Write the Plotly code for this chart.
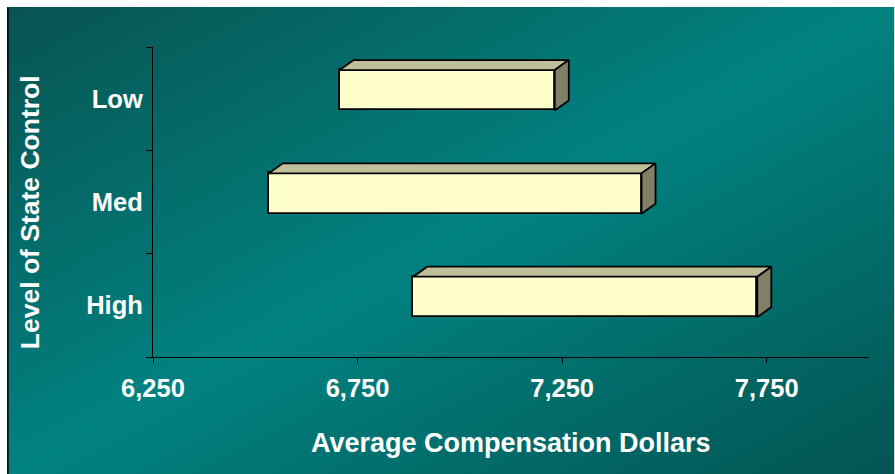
import base64
import plotly.graph_objects as go

# Range of average compensation by level of state control
categories = ["High", "Med", "Low"]
range_low = [6886, 6533, 6706]
range_high = [7727, 7444, 7232]
x_ticks = [6250, 6750, 7250, 7750]

W, H = 895, 474
M_L, M_R, M_T, M_B = 153, 25.5, 47, 117.3
PW, PH = W - M_L - M_R, H - M_T - M_B

X_MIN, X_MAX = 6250, 8000
Y_MIN, Y_MAX = -0.5, 2.5

# bar geometry in axis units
BAR_OFFSET, BAR_WIDTH = -0.114, 0.391
DEPTH_X = 14 * (X_MAX - X_MIN) / PW
DEPTH_Y = 10 * (Y_MAX - Y_MIN) / PH

FRONT = "#FFFFCC"
TOP = "#BFBF99"
SIDE = "#808066"
EDGE = "#000000"

fig = go.Figure()

ypos = list(range(len(categories)))
for i, (lo, hi) in enumerate(zip(range_low, range_high)):
    y0 = i + BAR_OFFSET
    y1 = y0 + BAR_WIDTH
    # top face
    fig.add_trace(go.Scatter(
        x=[lo, lo + DEPTH_X, hi + DEPTH_X, hi, lo],
        y=[y1, y1 + DEPTH_Y, y1 + DEPTH_Y, y1, y1],
        fill="toself", fillcolor=TOP, mode="lines",
        line=dict(color=EDGE, width=1.8), hoverinfo="skip", showlegend=False))
    # right side face
    fig.add_trace(go.Scatter(
        x=[hi, hi + DEPTH_X, hi + DEPTH_X, hi, hi],
        y=[y1, y1 + DEPTH_Y, y0 + DEPTH_Y, y0, y1],
        fill="toself", fillcolor=SIDE, mode="lines",
        line=dict(color=EDGE, width=1.8), hoverinfo="skip", showlegend=False))

# front faces
fig.add_trace(go.Bar(
    y=ypos, x=[h - l for l, h in zip(range_low, range_high)], base=range_low,
    orientation="h", offset=BAR_OFFSET, width=BAR_WIDTH,
    marker=dict(color=FRONT, line=dict(color=EDGE, width=1.8)),
    showlegend=False))

# teal diagonal gradient backdrop
bg_w, bg_h = W - 7, H - 7
svg = f'''<svg xmlns="http://www.w3.org/2000/svg" width="{bg_w}" height="{bg_h}" viewBox="0 0 {bg_w} {bg_h}" preserveAspectRatio="none">
<defs><linearGradient id="g" x1="0" y1="0" x2="1" y2="1">
<stop offset="0" stop-color="#085351"/>
<stop offset="0.5" stop-color="#008280"/>
<stop offset="1" stop-color="#035452"/>
</linearGradient></defs>
<rect x="0" y="0" width="{bg_w}" height="{bg_h}" fill="url(#g)"/>
<rect x="0" y="0" width="1.5" height="{bg_h}" fill="#000"/>
</svg>'''
src = "data:image/svg+xml;base64," + base64.b64encode(svg.encode()).decode()


def px_to_paper_x(px):
    return (px - M_L) / PW


def px_to_paper_y(py):
    return (H - M_B - py) / PH


fig.add_layout_image(dict(
    source=src, xref="paper", yref="paper",
    x=px_to_paper_x(7), y=px_to_paper_y(7),
    sizex=bg_w / PW, sizey=bg_h / PH,
    xanchor="left", yanchor="top", sizing="stretch", layer="below"))

FONT = "Liberation Sans, Arial, sans-serif"

fig.add_annotation(
    text="<b>Average Compensation Dollars</b>", xref="paper", yref="paper",
    x=px_to_paper_x(511), y=px_to_paper_y(443), showarrow=False,
    font=dict(family=FONT, size=27, color="white"), xanchor="center", yanchor="middle")
fig.add_annotation(
    text="<b>Level of State Control</b>", xref="paper", yref="paper",
    x=px_to_paper_x(30), y=px_to_paper_y(212), showarrow=False, textangle=-90,
    font=dict(family=FONT, size=26.5, color="white"), xanchor="center", yanchor="middle")

fig.update_layout(
    width=W, height=H,
    margin=dict(l=M_L, r=M_R, t=M_T, b=M_B, pad=0),
    paper_bgcolor="white", plot_bgcolor="rgba(0,0,0,0)",
    bargap=0,
    xaxis=dict(
        range=[X_MIN, X_MAX], tickvals=x_ticks, tickformat=",d",
        ticks="outside", ticklen=5, tickcolor="black", tickwidth=1,
        showline=True, linecolor="black", linewidth=1.2,
        showgrid=False, zeroline=False, ticklabelstandoff=3,
        tickfont=dict(family=FONT, size=25.5, color="white", weight="bold"),
        fixedrange=True),
    yaxis=dict(
        range=[Y_MIN, Y_MAX], tickvals=ypos, ticktext=categories,
        ticks="", showline=True, linecolor="black", linewidth=1.2,
        showgrid=False, zeroline=False, ticklabelstandoff=4,
        minor=dict(tickvals=[-0.5, 0.5, 1.5, 2.5], ticks="outside", ticklen=6,
                   tickcolor="black", tickwidth=1, showgrid=False),
        tickfont=dict(family=FONT, size=25.5, color="white", weight="bold"),
        fixedrange=True),
)

fig.write_html("out.html")
